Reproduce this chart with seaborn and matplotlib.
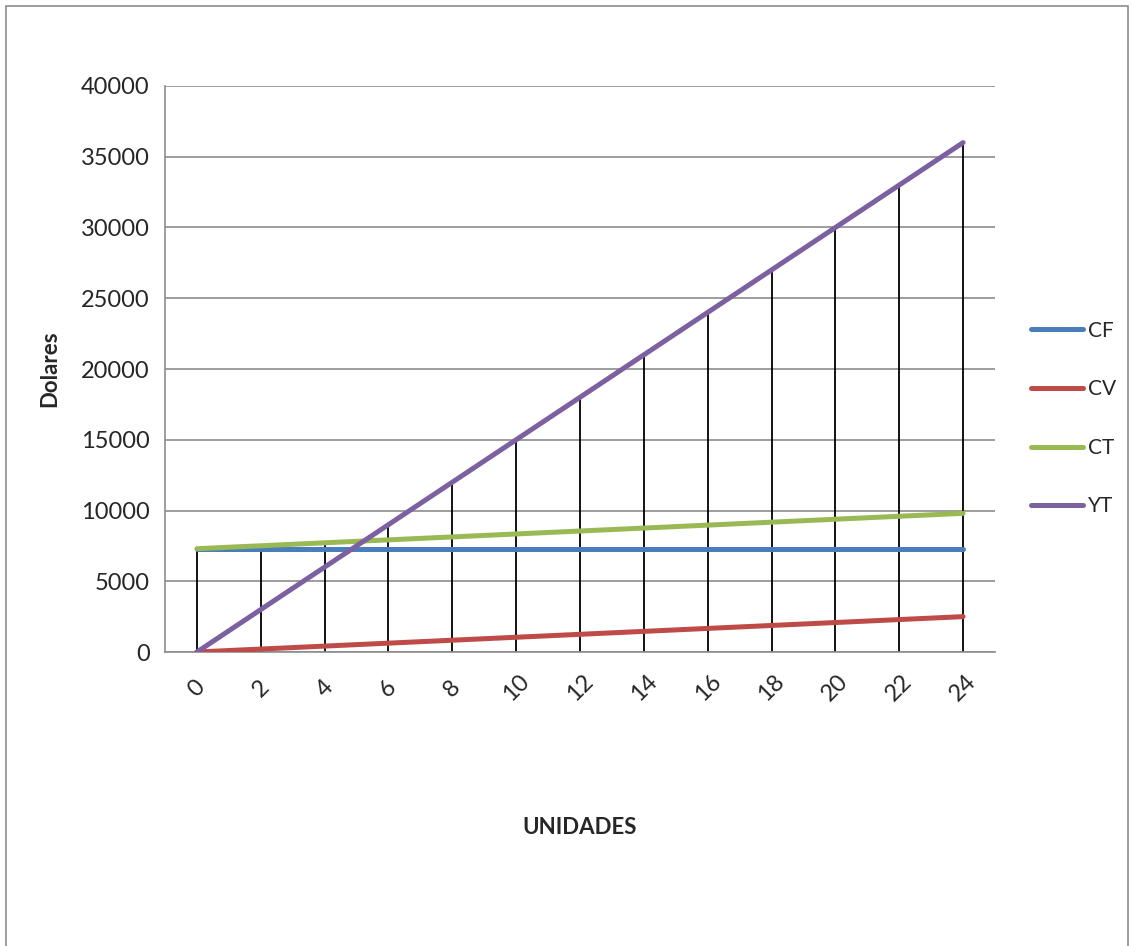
import matplotlib
matplotlib.use("Agg")
import matplotlib.pyplot as plt
import matplotlib.patches as mpatches
import numpy as np
import pandas as pd
import seaborn as sns

unidades = [0, 2, 4, 6, 8, 10, 12, 14, 16, 18, 20, 22, 24]
cf = [7300, 7300, 7300, 7300, 7300, 7300, 7300, 7300, 7300, 7300, 7300, 7300, 7300]
cv = [0, 208, 417, 625, 833, 1042, 1250, 1458, 1667, 1875, 2083, 2292, 2500]
ct = [7300, 7508, 7717, 7925, 8133, 8342, 8550, 8758, 8967, 9175, 9383, 9592, 9800]
yt = [0, 3000, 6000, 9000, 12000, 15000, 18000, 21000, 24000, 27000, 30000, 33000, 36000]
series_names = ["CF", "CV", "CT", "YT"]
colors = ["#4A7EBB", "#BE4B48", "#98B954", "#7D60A0"]

df = pd.DataFrame({"UNIDADES": unidades, "CF": cf, "CV": cv, "CT": ct, "YT": yt})
long = df.melt(id_vars="UNIDADES", var_name="serie", value_name="Dolares")

sns.set_style("white")
plt.rcParams["font.family"] = ["Lato", "DejaVu Sans"]

fig = plt.figure(figsize=(11.32, 9.46), dpi=100)
ax = fig.add_axes([165 / 1132, 1 - 652 / 946, 830 / 1132, 566 / 946])

# drop lines from the highest series value down to the axis
tops = df[series_names].max(axis=1)
ax.vlines(df["UNIDADES"], 0, tops, color="black", linewidth=1.3, zorder=2)

sns.lineplot(data=long, x="UNIDADES", y="Dolares", hue="serie",
             hue_order=series_names, palette=colors, linewidth=3.6,
             ax=ax, zorder=3)
for ln in ax.lines:
    ln.set_solid_capstyle("round")

ax.set_xlim(-1, 25)
ax.set_ylim(0, 40000)
ax.set_yticks(np.arange(0, 40001, 5000))
ax.set_xticks(unidades)
ax.set_xticklabels([str(u) for u in unidades], rotation=45, fontsize=17,
                   ha="center", va="center")
ax.set_xticks(np.arange(-1, 26, 2), minor=True)
ax.tick_params(axis="x", which="major", length=0, pad=26)
ax.tick_params(axis="x", which="minor", length=5, color="#8c8c8c", width=1.2,
               direction="out")
ax.tick_params(axis="y", length=5, color="#8c8c8c", width=1.2, labelsize=17,
               direction="out", pad=6)
ax.grid(axis="y", color="#8c8c8c", linewidth=1.2)
ax.set_axisbelow(True)
for side in ["top", "right"]:
    ax.spines[side].set_visible(False)
for side in ["left", "bottom"]:
    ax.spines[side].set_color("#8c8c8c")
    ax.spines[side].set_linewidth(1.2)

ax.set_xlabel("")
ax.set_ylabel("")
fig.text(580 / 1132, 1 - 827 / 946, "UNIDADES", fontsize=16, fontweight="bold",
         ha="center", va="center")
fig.text(50 / 1132, 1 - 369 / 946, "Dolares", fontsize=16, fontweight="bold",
         rotation=90, ha="center", va="center")

handles, labels = ax.get_legend_handles_labels()
ax.legend(handles, labels, loc="upper left",
          bbox_to_anchor=(1012 / 1132, 1 - 302 / 946),
          bbox_transform=fig.transFigure, frameon=False, fontsize=15,
          handlelength=2.5, handletextpad=0.25, labelspacing=1.85)

fig.patches.append(mpatches.Rectangle((6 / 1132, -0.02), 1122 / 1132,
                                      1 - 6 / 946 + 0.02,
                                      transform=fig.transFigure, fill=False,
                                      edgecolor="#8c8c8c", linewidth=1.2))

fig.savefig("out.png", dpi=100)
